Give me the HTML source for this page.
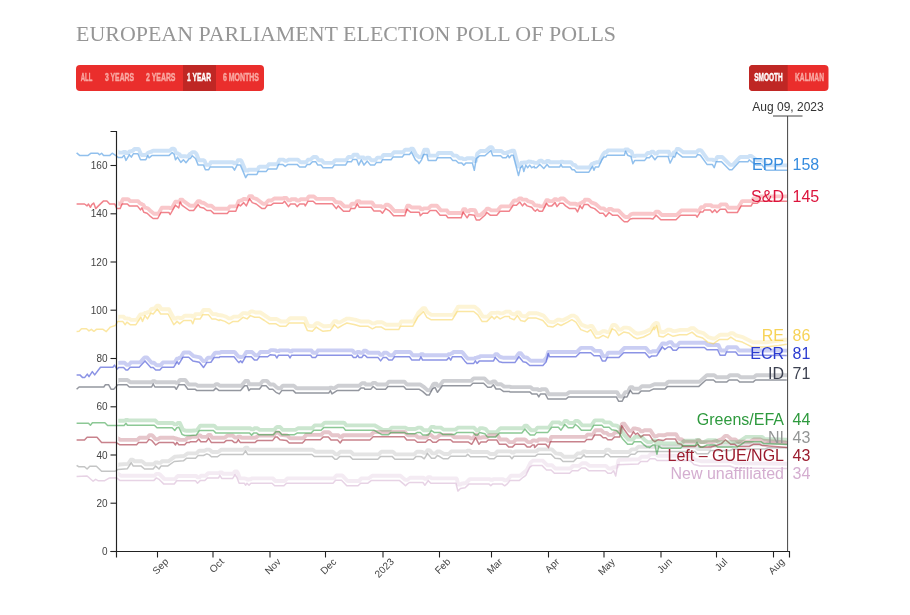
<!DOCTYPE html><html><head><meta charset="utf-8"><title>European Parliament Election Poll of Polls</title><style>html,body{margin:0;padding:0;background:#fff;width:910px;height:615px;overflow:hidden}</style></head><body><svg width="910" height="615" viewBox="0 0 910 615" style="position:absolute;left:0;top:0">
<defs><clipPath id="cp"><rect x="118.3" y="120" width="669.5" height="431"/></clipPath></defs>
<path d="M77.4,471.8L79.4,471.7L85.9,471.3L87.9,471.3L88.4,471.6L92.9,475.6L94.9,475.6L95.4,475.3L95.9,475.3L97.9,475.3L98.9,475.9L99.4,476.0L104.9,476.0L105.4,475.9L109.9,473.4L110.4,473.1L114.9,473.0L116.9,473.0L117.4,473.2L120.9,475.8L121.4,475.8L154.4,475.8L154.9,475.4L156.4,473.9L158.4,473.9L158.9,474.0L159.4,474.2L159.9,474.5L164.4,479.0L164.9,479.1L174.9,479.1L175.4,478.6L177.4,476.3L177.9,476.0L195.9,476.0L196.4,476.1L197.4,477.3L199.4,477.3L199.9,476.8L200.9,475.8L201.4,475.8L205.4,475.8L205.9,475.5L207.9,473.5L208.4,473.1L219.4,473.1L219.9,472.4L221.9,472.4L222.4,473.2L222.9,473.8L232.9,473.8L233.4,473.6L234.4,472.1L234.9,471.5L236.9,471.5L237.4,472.3L237.9,473.1L239.4,477.1L239.9,478.4L244.9,478.4L245.4,478.8L245.9,478.8L246.4,479.0L246.9,479.0L247.4,479.5L247.9,479.5L248.4,479.7L248.9,479.5L249.4,479.2L250.9,479.2L251.4,478.7L251.9,478.4L272.4,478.4L272.9,478.5L275.4,481.0L275.9,481.0L284.4,481.0L284.9,480.9L286.9,478.9L287.4,478.4L333.4,478.4L333.9,478.3L336.4,475.5L336.9,475.5L341.9,475.5L342.4,475.6L347.4,480.8L347.9,481.0L358.4,481.0L358.9,481.0L361.4,478.5L361.9,478.4L368.4,478.4L368.9,478.3L371.9,475.9L372.4,475.8L399.9,475.8L400.4,475.8L403.9,478.7L404.4,479.1L404.9,479.6L405.4,479.9L407.4,479.9L407.9,479.4L408.4,479.0L409.9,478.0L410.4,477.7L423.4,477.7L423.9,478.0L424.4,478.7L424.9,478.7L426.9,478.7L427.9,477.3L428.4,477.2L430.4,477.2L431.4,478.2L431.9,478.4L456.4,478.4L456.9,479.3L457.9,483.3L458.4,484.6L460.4,484.6L460.9,484.1L461.4,483.7L465.9,483.0L466.4,482.5L469.4,479.5L469.9,479.1L489.4,479.1L489.9,479.3L490.4,479.7L492.4,479.7L492.9,479.7L493.4,479.2L493.9,479.1L502.4,479.1L502.9,479.1L504.4,480.2L506.4,480.2L506.9,480.0L507.9,479.2L508.4,478.7L510.4,476.2L510.9,475.8L519.9,475.8L520.4,475.4L523.9,472.5L524.4,472.1L526.4,470.6L526.9,469.8L530.4,462.8L530.9,462.3L532.9,460.8L533.4,460.6L542.4,460.6L542.9,460.8L546.9,464.8L547.4,465.2L551.9,465.2L552.4,465.7L554.9,468.2L555.4,468.5L569.9,468.5L570.4,468.5L572.9,466.0L573.4,465.9L578.9,465.9L579.4,465.5L581.9,463.5L582.4,463.2L585.9,463.2L586.4,463.4L589.4,465.8L589.9,465.9L605.9,465.9L606.4,466.3L608.4,468.3L608.9,468.5L611.9,468.5L612.4,468.0L612.9,467.5L614.9,467.5L615.4,467.0L615.9,466.8L616.9,466.8L617.4,466.2L618.4,460.5L618.9,459.9L638.9,459.3L639.4,458.8L641.4,456.8L641.9,456.7L647.9,456.7L648.4,456.4L650.4,454.4L650.9,454.0L653.4,454.0L655.4,454.0L655.9,454.1L657.4,455.4L657.9,455.7L690.4,455.7L690.9,455.8L694.4,459.3L694.9,459.7L700.4,461.1L700.9,461.2L730.4,461.2L730.9,461.2L735.4,463.0L735.9,463.2L785.9,463.8L787.9,463.8" fill="none" stroke="#d4aed0" stroke-opacity="0.25" stroke-width="3.9" stroke-linejoin="round" clip-path="url(#cp)"/>
<path d="M76.6,476.6L87.1,476.0L93.1,481.2L95.7,479.3L98.4,480.8L104.3,480.8L109.6,477.9L116.2,477.7L120.1,480.6L153.7,480.6L156.4,477.9L159.0,479.3L163.6,483.9L174.2,483.9L176.8,480.8L189.3,480.8L195.5,480.8L197.5,483.2L200.2,480.6L204.8,480.6L207.4,477.9L218.6,477.9L219.9,475.3L221.9,478.6L232.5,478.6L235.1,474.6L237.1,477.9L239.1,483.2L244.3,483.2L245.7,485.2L247.0,483.2L249.0,485.2L250.9,483.2L272.0,483.2L274.7,485.8L283.9,485.8L286.5,483.2L304.3,483.2L333.0,483.2L335.6,480.3L341.5,480.3L346.8,485.8L358.0,485.8L360.7,483.2L367.9,483.2L371.2,480.6L399.6,480.6L403.5,483.9L405.5,485.8L407.5,483.9L409.5,482.5L419.3,482.5L422.9,482.5L424.9,485.2L428.2,480.6L430.8,483.2L455.9,483.2L457.9,491.1L460.5,488.5L465.1,487.8L469.1,483.9L488.8,483.9L490.8,485.6L492.8,483.9L502.0,483.9L504.7,485.8L507.3,483.9L509.9,480.6L519.2,480.6L523.1,477.3L525.8,475.3L529.7,467.4L532.4,465.4L534.3,465.4L541.9,465.4L546.5,470.0L551.1,470.0L554.4,473.3L569.6,473.3L572.2,470.7L578.1,470.7L581.4,468.0L585.4,468.0L588.7,470.7L605.2,470.7L607.8,473.3L611.1,473.3L613.7,470.7L615.7,476.0L617.7,464.7L638.1,464.1L640.8,461.5L647.4,461.5L650.0,458.8L655.0,458.8L657.0,460.5L690.0,460.5L694.0,464.5L700.0,466.0L730.0,466.0L735.0,468.0L787.5,468.6" fill="none" stroke="#d4aed0" stroke-opacity="0.55" stroke-width="1.5" stroke-linejoin="round"/>
<path d="M77.4,461.3L78.4,461.6L79.4,461.9L84.9,461.9L85.4,462.0L86.4,462.9L86.9,463.2L88.9,463.2L90.4,461.7L90.9,461.5L96.9,461.5L97.4,461.7L102.4,466.5L102.9,466.5L115.4,466.5L115.9,466.4L118.9,464.6L119.4,464.5L127.9,463.9L128.4,463.6L130.9,459.8L132.9,459.8L133.4,460.1L133.9,460.9L134.4,461.3L141.9,461.3L142.4,461.6L144.9,463.8L145.4,464.2L153.4,464.2L153.9,464.1L155.4,462.5L155.9,462.5L157.9,462.5L158.4,462.9L160.4,462.9L160.9,462.6L161.4,461.8L161.9,461.3L167.9,461.3L168.4,461.3L174.9,456.7L175.4,456.6L183.9,456.0L184.4,455.8L187.4,453.4L187.9,453.4L195.9,453.4L196.4,453.3L198.9,450.8L199.4,450.7L203.9,450.7L204.4,450.7L206.4,449.7L206.9,449.6L208.9,449.6L209.9,450.0L210.4,450.3L211.9,451.8L212.4,452.0L217.9,452.0L218.4,451.8L221.4,449.7L221.9,449.7L243.4,449.7L243.9,449.6L244.9,448.2L245.4,447.8L247.4,447.8L248.4,449.6L248.9,449.7L312.4,449.7L312.9,449.8L314.9,451.4L315.4,451.8L332.9,451.8L333.4,452.1L335.4,454.1L335.9,454.2L337.9,454.2L339.9,452.2L340.4,451.8L350.9,451.8L351.4,452.3L353.4,454.3L353.9,454.4L378.4,454.4L378.9,454.1L380.9,452.1L381.4,451.8L392.9,451.8L393.4,452.1L395.4,454.1L395.9,454.4L413.9,454.4L414.4,454.2L416.4,452.2L416.9,451.8L419.9,451.8L420.4,451.8L422.4,452.0L423.4,452.8L425.4,452.8L425.9,452.6L427.4,450.2L429.4,450.2L429.9,450.6L431.9,452.9L432.4,453.4L435.4,453.4L435.9,453.0L437.4,451.5L439.4,451.5L439.9,451.6L440.4,451.8L440.9,452.1L443.9,453.9L444.4,454.0L448.4,454.0L448.9,453.9L451.4,451.4L451.9,451.4L466.4,451.4L466.9,451.1L467.4,450.6L469.4,450.6L469.9,450.7L470.9,451.7L471.4,452.0L487.4,452.0L487.9,452.2L489.9,453.7L490.4,454.0L494.9,454.0L495.4,453.5L497.4,451.5L497.9,451.4L510.4,451.4L510.9,451.6L511.4,452.2L511.9,452.5L513.9,452.5L514.4,451.8L514.9,451.4L535.9,451.4L536.4,451.1L538.4,449.6L538.9,449.4L551.9,449.4L552.4,449.9L555.4,452.9L555.9,453.4L560.9,454.0L561.4,454.3L563.4,456.3L563.9,456.7L573.9,456.7L574.4,456.6L577.4,453.6L577.9,453.4L581.4,453.4L581.9,453.0L583.4,451.5L585.4,451.5L585.9,451.6L586.4,452.0L604.4,452.0L604.9,451.7L606.4,449.7L606.9,449.7L608.9,449.7L610.9,451.7L611.4,452.0L628.9,452.0L629.4,451.7L631.4,449.7L631.9,449.4L635.4,449.4L635.9,449.1L637.9,447.1L638.4,446.8L649.9,446.8L650.4,446.8L695.4,446.8L695.9,446.9L697.4,448.6L697.9,449.0L708.4,449.0L708.9,448.9L710.9,446.2L711.4,445.7L730.4,445.7L730.9,445.7L733.4,444.4L733.9,444.2L765.4,444.2L765.9,444.2L768.4,443.1L768.9,442.9L787.9,442.9" fill="none" stroke="#939595" stroke-opacity="0.25" stroke-width="3.9" stroke-linejoin="round" clip-path="url(#cp)"/>
<path d="M76.6,465.4L78.6,466.7L84.5,466.7L87.1,469.0L89.8,466.3L96.4,466.3L101.6,471.3L114.8,471.3L118.1,469.4L127.4,468.7L131.3,462.8L133.3,466.1L141.2,466.1L144.5,469.0L153.1,469.0L155.7,466.1L159.0,469.0L161.0,466.1L167.6,466.1L174.2,461.5L183.4,460.8L186.7,458.2L189.3,458.2L195.5,458.2L198.2,455.5L203.5,455.5L206.8,453.9L209.4,454.9L211.4,456.8L217.3,456.8L220.6,454.5L243.0,454.5L245.7,450.9L247.6,454.5L304.3,454.5L311.9,454.5L314.5,456.6L332.3,456.6L334.9,459.2L336.9,459.2L339.6,456.6L350.1,456.6L352.7,459.2L377.8,459.2L380.4,456.6L392.3,456.6L394.9,459.2L413.4,459.2L416.0,456.6L419.3,456.6L421.6,456.8L424.2,458.8L427.5,453.5L431.5,458.2L434.8,458.2L437.4,455.5L440.1,456.8L443.4,458.8L448.0,458.8L450.6,456.2L465.8,456.2L467.7,454.2L470.4,456.8L486.9,456.8L489.5,458.8L494.1,458.8L496.8,456.2L509.9,456.2L511.9,458.8L513.9,456.2L534.3,456.2L535.3,456.2L537.9,454.2L551.1,454.2L555.1,458.2L560.3,458.8L563.0,461.5L573.5,461.5L576.8,458.2L580.8,458.2L584.1,454.9L585.4,456.8L603.8,456.8L605.8,454.2L607.8,454.2L610.4,456.8L628.2,456.8L630.9,454.2L634.8,454.2L637.5,451.6L649.3,451.6L695.0,451.6L697.0,453.8L708.0,453.8L710.5,450.5L730.0,450.5L733.0,449.0L765.0,449.0L768.0,447.7L787.5,447.7" fill="none" stroke="#939595" stroke-opacity="0.55" stroke-width="1.5" stroke-linejoin="round"/>
<path d="M77.4,435.2L84.9,435.2L85.4,435.1L87.9,432.6L88.4,432.5L97.4,432.5L97.9,432.6L102.4,437.7L102.9,437.8L116.9,437.8L117.4,438.1L119.9,439.7L120.4,439.9L137.4,439.9L138.9,438.3L139.4,437.8L146.9,437.8L147.4,437.7L149.4,435.3L151.4,435.3L151.9,435.3L152.4,435.5L152.9,435.9L155.4,438.9L155.9,439.2L157.9,439.2L159.4,438.1L159.9,437.8L173.9,437.8L174.4,437.9L174.9,438.5L176.4,438.5L176.9,439.0L177.4,439.1L178.9,439.1L179.4,439.7L179.9,439.9L185.4,439.9L185.9,439.5L187.4,437.9L187.9,437.8L189.9,437.8L190.4,437.5L190.9,437.0L191.4,436.9L196.9,436.9L197.4,436.5L198.4,435.5L200.4,435.5L200.9,435.9L201.4,436.6L201.9,436.9L206.9,436.9L207.4,436.3L208.4,435.0L210.4,435.0L210.9,435.7L211.9,437.3L212.4,437.8L224.4,437.8L224.9,437.6L226.9,435.9L227.4,435.6L232.4,435.6L232.9,435.8L234.9,437.5L235.4,437.6L237.4,437.6L237.9,436.8L238.4,436.6L240.4,436.6L240.9,437.4L241.4,437.8L255.4,437.8L255.9,437.6L257.9,435.9L258.4,435.6L273.4,435.6L273.9,435.1L275.9,432.6L276.4,432.5L278.4,432.5L280.4,434.5L280.9,434.9L286.9,435.5L287.4,435.6L289.9,438.1L290.4,438.2L302.9,438.2L303.4,438.0L304.9,436.5L305.4,435.9L305.9,435.1L306.4,434.9L320.9,434.9L321.4,434.7L323.4,432.7L323.9,432.3L328.9,432.3L329.4,432.5L331.4,434.7L331.9,435.2L337.9,435.2L338.4,435.2L339.4,436.3L339.9,436.8L341.9,436.8L342.9,435.3L343.4,435.2L370.4,435.2L370.9,435.0L373.9,432.1L374.4,432.0L404.9,432.0L405.4,432.5L407.4,434.9L407.9,435.2L415.4,435.2L415.9,435.5L417.9,437.3L418.4,437.5L425.9,437.5L426.4,437.5L428.9,435.0L430.9,435.0L431.4,435.3L433.4,437.3L433.9,437.5L436.9,437.5L437.4,437.1L439.9,435.1L440.4,434.9L451.4,434.9L451.9,435.3L453.9,437.1L454.4,437.3L468.9,437.3L469.4,437.4L470.9,438.4L472.9,438.4L473.4,438.0L474.9,435.5L475.4,434.8L477.4,434.8L478.9,437.8L480.9,437.8L481.4,437.7L481.9,437.3L486.9,437.3L487.4,436.9L488.9,435.3L489.4,435.2L497.4,435.2L497.9,435.7L499.9,439.0L500.4,439.5L506.4,439.5L506.9,439.6L509.4,442.1L509.9,442.1L512.9,442.1L513.4,442.1L515.9,439.6L516.4,439.5L524.9,439.5L525.4,439.7L527.4,441.7L527.9,442.1L530.9,442.1L531.4,441.9L532.9,440.4L534.9,440.4L535.4,440.8L537.4,440.8L538.4,439.8L538.9,439.5L546.4,439.5L546.9,439.8L547.4,440.5L547.9,440.9L549.9,440.9L550.9,437.9L551.4,436.9L585.4,436.9L585.9,436.5L587.4,434.8L587.9,434.6L592.4,434.6L592.9,434.4L595.4,430.3L595.9,430.3L600.9,430.3L601.4,430.3L603.9,432.8L604.4,432.9L606.4,432.9L606.9,433.2L608.4,434.7L608.9,434.9L612.4,434.9L612.9,434.6L614.9,432.6L615.4,432.3L620.4,432.3L620.9,429.9L621.9,424.2L622.4,423.8L624.4,423.8L628.9,430.1L629.4,430.6L629.9,430.9L631.9,430.9L633.4,428.5L635.4,428.5L635.9,428.6L636.4,428.6L636.9,428.9L637.4,429.0L637.9,429.1L638.4,429.2L638.9,429.2L639.4,429.6L640.4,430.8L640.9,431.3L642.9,431.3L643.9,430.5L644.4,430.3L650.4,430.3L650.9,431.0L653.4,435.0L653.9,435.7L654.4,436.0L654.9,436.1L656.9,436.1L658.4,435.2L658.9,435.1L660.9,435.1L662.4,435.3L664.4,435.3L664.9,435.2L666.9,434.2L667.4,434.2L675.9,434.2L676.4,434.7L678.4,438.2L678.9,438.9L681.9,439.5L682.4,439.9L683.9,441.6L684.4,441.7L695.9,441.7L696.4,441.3L697.4,440.5L699.4,440.5L699.9,440.9L700.9,441.9L701.4,442.1L711.4,442.1L711.9,442.1L716.9,440.9L717.4,440.7L721.9,439.0L722.4,438.7L724.9,436.2L725.4,435.9L727.4,435.9L731.4,439.4L731.9,439.5L735.4,439.5L735.9,439.9L737.9,441.6L738.4,441.7L749.9,441.7L750.4,441.5L753.9,439.5L754.4,439.5L760.4,439.5L760.9,439.7L762.9,440.7L763.4,440.8L785.9,442.5L787.9,442.6" fill="none" stroke="#9b1c2e" stroke-opacity="0.25" stroke-width="3.9" stroke-linejoin="round" clip-path="url(#cp)"/>
<path d="M76.6,440.0L84.5,440.0L87.1,437.3L97.0,437.3L101.6,442.6L116.2,442.6L119.5,444.7L136.6,444.7L138.6,442.6L146.5,442.6L149.1,439.4L151.8,440.4L155.7,445.0L159.0,442.6L173.5,442.6L175.5,445.0L176.8,442.3L178.8,444.7L184.7,444.7L186.7,442.6L189.3,442.6L190.3,441.7L196.2,441.7L198.8,439.0L200.8,441.7L206.1,441.7L208.7,438.4L211.4,442.6L223.9,442.6L226.5,440.4L231.8,440.4L234.5,442.6L236.4,442.6L238.4,439.7L240.4,442.6L254.9,442.6L257.5,440.4L272.7,440.4L275.3,437.1L277.3,437.1L279.9,439.7L286.5,440.4L289.2,443.0L302.4,443.0L304.3,441.0L305.3,439.7L320.4,439.7L323.1,437.1L328.4,437.1L331.0,440.0L337.6,440.0L340.2,443.0L342.2,440.0L369.9,440.0L373.2,436.8L404.2,436.8L406.8,440.0L414.7,440.0L417.4,442.3L419.3,442.3L420.3,442.3L425.5,442.3L428.2,439.7L430.2,439.7L432.8,442.3L436.1,442.3L439.4,439.7L450.6,439.7L453.2,442.1L468.4,442.1L471.7,444.3L475.7,437.7L479.0,444.3L480.9,442.1L486.2,442.1L488.2,440.0L496.8,440.0L499.4,444.3L506.0,444.3L508.6,446.9L512.6,446.9L515.2,444.3L524.5,444.3L527.1,446.9L530.4,446.9L532.4,445.0L534.3,445.0L534.6,447.6L537.9,444.3L545.8,444.3L548.5,447.6L550.4,441.7L584.7,441.7L586.7,439.4L592.0,439.4L594.6,435.1L600.5,435.1L603.2,437.7L605.8,437.7L607.8,439.7L611.8,439.7L614.4,437.1L619.7,437.1L621.6,425.8L624.9,430.5L628.2,435.1L630.2,437.1L633.5,431.8L635.5,434.4L637.5,433.1L640.8,437.1L643.4,435.1L648.7,435.1L649.6,435.1L652.9,440.4L654.9,441.7L658.2,439.7L663.5,440.4L666.1,439.0L675.3,439.0L678.0,443.6L681.3,444.3L683.2,446.5L695.1,446.5L697.7,444.3L700.4,446.9L710.9,446.9L716.2,445.6L721.5,443.6L725.4,439.7L730.7,444.3L734.7,444.3L737.3,446.5L749.2,446.5L753.1,444.3L759.7,444.3L762.4,445.6L787.5,447.5" fill="none" stroke="#9b1c2e" stroke-opacity="0.55" stroke-width="1.5" stroke-linejoin="round"/>
<path d="M77.4,418.4L88.9,418.4L89.4,418.5L89.9,419.0L91.9,419.0L92.4,419.0L92.9,418.4L93.4,418.0L105.4,418.0L105.9,418.2L107.9,420.2L108.4,420.7L124.4,420.7L124.9,420.6L125.4,420.1L125.9,420.0L127.9,420.0L128.4,420.4L154.9,420.4L155.4,420.6L157.4,422.6L157.9,423.0L172.9,423.0L173.4,423.4L174.4,424.4L176.4,424.4L176.9,424.0L177.4,423.3L177.9,423.0L179.9,423.0L182.4,428.5L182.9,429.6L185.4,430.6L185.9,430.7L190.9,430.7L191.4,430.7L196.9,430.3L197.4,429.7L199.9,426.2L200.4,425.7L213.9,425.7L214.4,425.9L216.4,427.9L216.9,428.3L250.4,428.3L250.9,428.8L251.4,429.3L253.4,429.3L253.9,428.8L254.4,428.3L257.4,428.3L257.9,428.5L259.4,429.7L259.9,429.9L273.9,429.9L274.4,429.6L276.4,427.4L276.9,427.0L279.9,427.0L280.4,427.3L282.4,429.5L282.9,429.9L294.9,429.9L295.4,429.8L297.4,428.6L297.9,428.3L311.9,428.3L312.4,427.9L314.4,425.7L314.9,425.4L321.9,425.4L322.4,424.9L324.4,422.9L324.9,422.8L343.9,422.8L344.4,422.9L345.9,424.9L346.4,425.4L374.4,425.4L374.9,425.5L382.4,429.8L382.9,429.9L388.9,429.9L389.4,429.7L391.4,428.0L391.9,427.6L404.9,427.6L405.4,427.8L407.4,428.8L407.9,429.0L415.4,429.0L415.9,428.8L417.9,427.8L418.4,427.6L420.9,427.6L421.4,428.0L423.4,430.0L423.9,430.3L428.9,430.3L429.4,429.7L431.4,426.9L431.9,426.9L433.9,426.9L434.9,427.6L435.4,427.6L440.4,427.6L440.9,427.7L443.4,429.5L443.9,429.6L454.9,429.6L455.4,429.6L457.9,427.7L458.4,427.6L473.4,427.6L473.9,427.7L476.4,430.2L478.4,430.2L478.9,429.7L479.9,428.3L480.4,428.1L482.4,428.1L485.4,428.9L485.9,429.2L487.9,431.7L488.4,432.3L495.9,432.3L496.4,432.1L499.9,428.6L500.4,428.3L522.4,428.3L522.9,428.0L524.4,426.2L524.9,425.7L526.9,425.7L527.4,426.3L527.9,427.0L530.9,430.0L531.4,430.3L534.9,430.3L535.4,430.1L537.4,427.6L548.4,427.6L548.9,427.3L552.4,422.6L552.9,422.4L558.9,422.4L559.4,422.6L560.4,423.8L560.9,423.8L562.9,423.8L564.9,420.9L566.9,420.9L567.4,421.4L568.9,422.9L569.4,423.0L573.4,423.0L573.9,422.7L575.4,420.9L577.4,420.9L577.9,420.9L578.9,421.7L579.4,422.2L581.9,425.0L582.4,425.4L591.4,425.4L591.9,424.7L594.4,420.9L594.9,420.4L602.4,420.4L602.9,420.6L604.4,422.1L604.9,422.4L609.9,422.4L610.4,422.8L612.4,424.8L612.9,425.1L616.9,425.6L617.4,425.9L620.4,428.9L620.9,429.7L622.9,433.2L623.4,433.9L627.9,439.0L628.4,439.5L632.9,439.5L633.4,439.0L634.9,437.0L635.4,436.9L641.4,436.9L641.9,437.2L643.9,439.2L644.4,439.7L647.4,442.1L647.9,442.1L650.9,442.1L651.4,441.9L653.4,440.4L655.4,440.4L655.9,441.1L656.4,443.4L656.9,444.5L658.9,444.5L659.4,442.5L661.4,442.5L662.9,443.4L663.4,443.5L681.4,443.5L681.9,443.0L683.9,441.0L684.4,440.8L695.9,440.8L696.4,440.0L696.9,439.9L698.9,439.9L699.4,441.0L699.9,442.1L703.4,442.1L703.9,442.1L707.4,440.4L707.9,440.2L715.4,440.2L715.9,440.3L717.9,441.8L718.4,442.1L737.9,442.1L738.4,442.0L745.9,437.0L746.4,436.9L761.4,436.9L761.9,436.9L764.4,438.8L764.9,438.9L785.9,439.6L787.9,439.6" fill="none" stroke="#2e9a3e" stroke-opacity="0.25" stroke-width="3.9" stroke-linejoin="round" clip-path="url(#cp)"/>
<path d="M76.6,423.2L88.5,423.2L90.4,425.2L92.4,422.8L104.9,422.8L107.6,425.5L124.1,425.5L126.0,423.2L127.4,425.2L154.4,425.2L157.0,427.8L172.2,427.8L174.8,430.5L176.8,427.8L178.8,427.2L182.1,434.4L184.7,435.5L189.3,435.5L190.3,435.5L196.2,435.1L199.5,430.5L213.4,430.5L216.0,433.1L249.6,433.1L251.6,435.1L253.6,433.1L256.9,433.1L258.8,434.7L273.4,434.7L276.0,431.8L279.3,431.8L281.9,434.7L294.5,434.7L297.1,433.1L304.3,433.1L305.3,433.1L311.2,433.1L313.8,430.2L321.1,430.2L323.7,427.6L343.5,427.6L345.5,430.2L373.8,430.2L377.8,432.4L381.8,434.7L388.4,434.7L391.0,432.4L404.2,432.4L406.8,433.8L414.7,433.8L417.4,432.4L419.3,432.4L420.3,432.4L422.9,435.1L428.2,435.1L431.5,430.5L434.1,432.4L440.1,432.4L442.7,434.4L454.6,434.4L457.2,432.4L473.0,432.4L475.7,435.1L477.6,435.1L479.6,432.4L484.9,433.8L487.5,437.1L495.4,437.1L499.4,433.1L521.8,433.1L525.1,429.1L527.1,431.8L530.4,435.1L534.3,435.1L534.4,435.1L536.6,432.4L547.8,432.4L551.8,427.2L558.4,427.2L561.0,430.2L564.9,424.5L568.2,427.8L572.9,427.8L575.5,424.5L578.1,426.5L581.4,430.2L590.7,430.2L594.0,425.2L601.9,425.2L603.8,427.2L609.1,427.2L611.8,429.8L616.4,430.5L619.7,433.8L622.3,438.4L627.6,444.3L632.2,444.3L634.2,441.7L640.8,441.7L643.4,444.3L646.7,446.9L649.3,446.9L649.4,447.6L652.9,445.0L654.9,445.0L656.9,454.2L658.8,446.3L662.1,448.3L680.6,448.3L683.2,445.6L695.1,445.6L697.1,442.3L699.1,446.9L703.0,446.9L707.0,445.0L714.9,445.0L717.5,446.9L737.3,446.9L741.3,444.3L745.2,441.7L761.0,441.7L763.7,443.6L787.5,444.5" fill="none" stroke="#2e9a3e" stroke-opacity="0.55" stroke-width="1.5" stroke-linejoin="round"/>
<path d="M77.4,383.6L79.4,382.6L79.9,382.2L104.4,382.2L104.9,381.8L105.9,380.5L106.4,380.0L109.4,380.0L109.9,380.7L111.9,384.3L112.4,384.5L114.4,384.5L114.9,384.0L118.4,380.3L118.9,380.0L127.4,380.0L127.9,380.2L129.9,382.0L130.4,382.2L152.4,382.2L152.9,381.3L154.9,381.3L155.4,381.6L155.9,382.2L175.4,382.2L175.9,382.8L177.9,382.8L178.4,382.2L179.4,380.4L179.9,380.0L184.9,380.0L185.4,380.1L188.4,384.1L188.9,384.5L195.9,384.5L196.4,384.7L197.4,385.5L197.9,385.8L213.9,385.8L214.4,385.6L215.4,384.6L215.9,384.2L217.9,384.2L219.9,385.7L220.4,385.8L240.9,385.8L241.4,385.8L245.4,381.0L245.9,380.9L247.9,380.9L248.4,382.2L248.9,383.7L249.4,384.2L259.9,384.2L260.4,384.0L262.4,381.4L262.9,380.9L266.9,380.9L267.4,381.4L269.9,384.2L270.4,384.5L273.4,384.5L273.9,384.8L276.4,387.1L276.9,387.5L278.4,388.3L280.4,388.3L280.9,388.0L282.4,386.0L282.9,385.8L293.9,385.8L294.4,386.1L296.4,388.1L296.9,388.3L329.4,388.3L329.9,387.7L331.9,387.7L332.4,388.1L334.4,388.1L337.4,386.1L337.9,385.8L358.9,385.8L359.4,385.6L361.4,383.6L361.9,383.3L364.9,383.3L365.4,384.0L365.9,384.5L371.4,384.5L371.9,384.1L372.9,382.9L373.4,382.9L375.4,382.9L376.9,384.2L377.4,384.5L385.9,384.5L386.4,384.4L388.4,382.2L388.9,381.7L404.4,381.7L404.9,382.2L406.9,384.4L407.4,384.5L419.9,384.5L420.4,384.6L423.4,386.6L423.9,387.0L427.4,390.1L427.9,390.3L429.9,390.3L430.4,389.6L432.9,385.0L433.4,384.1L433.9,383.8L434.4,383.7L436.4,383.7L437.4,385.7L439.4,385.7L439.9,385.3L442.9,381.3L443.4,380.9L470.9,380.9L471.4,380.7L473.4,378.7L473.9,378.4L484.4,378.4L484.9,378.9L488.4,382.4L488.9,382.5L491.4,382.5L491.9,382.5L492.9,381.5L494.9,381.5L495.4,381.8L496.4,383.5L496.9,384.2L500.9,384.2L501.4,384.5L503.9,386.4L504.4,386.6L509.9,386.6L510.4,386.9L510.9,387.1L530.4,387.1L530.9,387.4L532.9,389.2L533.4,389.3L537.9,389.3L538.4,390.0L540.4,390.0L540.9,389.9L541.4,389.3L545.9,389.3L546.4,389.7L548.4,393.7L548.9,394.2L566.4,394.2L566.9,394.1L568.9,392.4L569.4,392.1L616.9,392.1L617.4,392.7L619.4,396.3L619.9,396.5L622.4,396.5L622.9,396.4L624.9,392.8L625.4,392.1L627.4,392.1L627.9,391.8L629.9,387.8L630.4,387.2L632.4,387.2L633.4,388.6L633.9,388.8L638.9,388.8L639.4,388.7L641.4,386.7L641.9,386.3L649.9,386.3L650.4,386.1L653.9,384.4L654.4,384.3L665.4,384.3L665.9,384.0L667.9,382.0L668.4,381.8L699.4,381.8L699.9,381.4L706.4,375.6L706.9,375.2L713.9,375.2L714.4,375.3L716.4,377.0L716.9,377.3L727.4,377.3L727.9,377.0L729.9,375.2L730.4,375.2L737.9,375.2L738.4,375.4L740.4,377.1L740.9,377.3L753.4,377.3L753.9,377.3L755.9,375.5L756.4,375.2L787.4,375.2" fill="none" stroke="#3c4150" stroke-opacity="0.25" stroke-width="3.9" stroke-linejoin="round" clip-path="url(#cp)"/>
<path d="M76.6,389.3L79.1,387.0L103.8,387.0L105.4,384.8L108.7,384.8L111.2,389.3L113.7,389.3L117.8,384.8L126.9,384.8L129.3,387.0L151.6,387.0L153.2,384.0L154.9,387.0L174.7,387.0L176.3,389.3L178.8,384.8L184.6,384.8L187.9,389.3L195.3,389.3L196.9,390.6L213.4,390.6L215.9,388.1L219.2,390.6L219.9,390.6L240.5,390.6L244.7,385.7L247.1,385.7L248.8,390.6L250.4,389.0L259.5,389.0L262.0,385.7L266.1,385.7L269.4,389.3L272.7,389.3L276.0,392.3L279.3,393.9L281.8,390.6L293.3,390.6L295.8,393.1L328.7,393.1L330.4,390.6L332.0,393.9L337.0,390.6L358.4,390.6L360.9,388.1L364.2,388.1L364.9,389.3L370.7,389.3L373.2,386.5L376.5,389.3L385.5,389.3L388.0,386.5L403.7,386.5L406.2,389.3L419.3,389.3L422.6,391.4L426.8,395.1L429.2,395.1L432.5,389.0L435.0,387.3L437.5,392.3L442.4,385.7L470.4,385.7L472.9,383.2L483.6,383.2L487.7,387.3L491.0,387.3L493.5,384.8L496.0,389.0L500.1,389.0L503.4,391.4L509.2,391.4L509.9,391.9L529.7,391.9L532.2,394.1L537.1,394.1L538.8,396.9L540.4,394.1L545.4,394.1L547.9,399.0L566.0,399.0L568.5,396.9L616.3,396.9L618.7,401.3L622.0,401.3L624.5,396.9L627.0,396.9L630.3,390.3L632.7,393.6L638.5,393.6L641.0,391.1L649.2,391.1L651.6,389.9L653.3,389.1L664.8,389.1L667.3,386.6L698.6,386.6L706.0,380.0L713.5,380.0L715.9,382.1L726.6,382.1L729.1,380.0L737.4,380.0L739.8,382.1L753.0,382.1L755.5,380.0L786.8,380.0" fill="none" stroke="#3c4150" stroke-opacity="0.55" stroke-width="1.5" stroke-linejoin="round"/>
<path d="M77.4,370.1L80.4,370.1L80.9,370.3L82.9,372.3L83.4,372.6L85.4,372.6L85.9,372.3L86.9,370.9L87.9,370.9L88.4,370.8L88.9,370.5L89.4,370.3L89.9,370.1L90.9,370.1L91.9,368.6L93.9,368.6L94.4,368.6L96.4,368.6L96.9,368.3L100.9,362.9L101.4,362.4L113.4,362.4L113.9,362.1L114.4,362.1L116.4,362.1L116.9,362.9L118.9,362.9L119.4,362.8L119.9,362.7L123.9,362.7L124.4,362.7L126.4,364.7L128.4,364.7L128.9,364.7L130.9,362.5L131.4,362.4L139.9,362.4L140.4,362.0L144.4,357.7L144.9,357.4L146.9,357.4L151.4,362.5L151.9,362.7L153.9,362.7L154.4,363.1L156.4,365.1L156.9,365.2L160.4,365.2L160.9,364.9L162.9,362.6L163.4,362.4L174.4,362.4L174.9,362.0L176.9,358.7L177.9,358.7L178.4,358.4L178.9,358.1L179.4,357.9L179.9,357.6L180.4,357.6L180.9,357.2L183.4,353.0L183.9,352.5L189.4,352.5L189.9,352.9L193.4,356.0L193.9,356.2L199.9,357.4L200.4,357.7L202.9,360.9L203.4,361.1L205.4,361.1L207.4,358.1L207.9,357.8L211.4,357.5L211.9,357.2L214.9,353.0L215.4,352.8L219.9,352.8L220.4,352.4L220.9,352.0L234.4,352.0L234.9,352.2L237.9,355.9L238.4,356.5L238.9,356.6L239.4,356.6L239.9,356.7L240.4,357.0L240.9,357.1L241.9,357.1L242.4,356.7L242.9,356.6L243.4,356.2L243.9,356.2L245.9,352.7L246.4,352.0L251.9,352.0L252.4,352.3L254.9,354.8L255.4,355.3L257.4,355.3L257.9,355.2L259.9,352.6L260.4,352.0L268.4,352.0L268.9,351.7L270.4,350.4L270.9,350.1L272.9,350.1L275.9,350.4L276.4,351.1L278.4,351.1L278.9,351.0L279.4,350.4L288.9,350.4L289.4,350.8L289.9,351.3L291.9,351.3L292.4,350.5L292.9,350.4L311.4,350.4L311.9,351.1L312.9,352.6L313.4,352.8L315.9,352.8L316.4,352.8L317.9,350.5L318.4,350.4L352.4,350.4L352.9,350.8L353.9,352.3L354.4,352.8L356.4,352.8L356.9,352.6L357.4,351.9L359.4,351.9L359.9,352.6L360.4,352.8L362.4,352.8L362.9,352.3L363.9,350.8L365.9,350.8L366.4,351.0L367.9,352.5L368.4,352.8L378.9,352.8L379.4,353.5L380.4,354.8L382.4,354.8L382.9,354.1L383.4,353.5L383.9,352.8L386.9,352.8L387.4,353.1L389.4,355.1L389.9,355.3L392.9,355.3L393.4,354.7L395.4,352.0L395.9,352.0L409.9,352.0L410.4,352.2L412.4,354.9L412.9,355.3L419.9,355.3L420.4,354.8L420.9,354.2L422.9,354.2L423.4,355.2L423.9,355.3L446.9,355.3L447.4,355.3L448.4,354.3L449.9,354.3L450.4,353.8L450.9,353.7L451.4,353.4L452.4,353.4L452.9,352.4L453.4,352.0L461.9,352.0L462.4,352.3L465.4,356.0L465.9,356.6L467.9,358.6L468.4,358.6L474.4,358.6L474.9,358.1L475.4,357.9L476.4,357.9L476.9,357.5L477.4,357.3L477.9,357.2L478.9,357.2L479.4,357.0L479.9,356.5L480.4,356.1L493.9,356.1L494.4,356.0L494.9,355.0L495.4,354.3L497.4,354.3L499.9,356.8L500.4,357.0L502.9,357.7L503.4,357.8L515.4,357.8L515.9,357.5L518.4,354.0L518.9,353.3L520.9,353.3L523.9,356.9L524.4,357.1L526.9,357.7L527.4,357.9L530.4,360.6L530.9,360.7L543.4,360.7L543.9,360.5L546.9,357.1L547.4,355.4L547.9,353.3L548.4,352.0L576.4,352.0L576.9,351.8L580.4,348.3L580.9,347.9L591.4,347.9L591.9,348.2L594.4,350.5L594.9,350.9L600.4,350.9L600.9,351.5L602.9,355.8L603.4,356.1L605.9,356.1L606.4,356.0L607.9,353.0L608.4,352.8L619.4,352.8L619.9,352.5L624.4,348.0L624.9,347.9L645.9,347.9L646.4,348.5L648.9,351.5L649.4,351.9L651.4,351.9L652.4,351.3L652.9,351.2L654.9,351.2L655.4,351.2L657.4,351.0L661.9,344.2L662.4,343.5L664.4,343.5L664.9,343.8L666.9,343.8L668.9,342.3L669.4,342.2L671.4,342.2L671.9,342.9L673.4,344.9L673.9,345.5L676.9,345.5L677.4,345.3L679.4,343.0L679.9,342.7L704.9,342.7L705.4,342.9L707.4,344.8L707.9,345.0L717.9,345.0L718.4,345.1L720.4,349.5L720.9,350.5L725.4,350.5L725.9,350.3L727.4,347.3L727.9,347.2L736.4,347.2L736.9,347.7L738.9,350.4L739.4,350.5L749.4,350.5L749.9,350.5L785.4,350.6L787.4,350.6" fill="none" stroke="#2b3bd0" stroke-opacity="0.25" stroke-width="3.9" stroke-linejoin="round" clip-path="url(#cp)"/>
<path d="M76.6,374.9L79.9,374.9L82.4,377.4L84.8,377.4L87.3,374.1L89.0,376.6L92.3,371.6L94.7,374.9L100.5,367.2L112.9,367.2L114.5,365.1L117.0,369.2L118.6,367.5L123.6,367.5L126.0,370.0L127.7,370.0L130.2,367.2L139.2,367.2L145.0,360.9L150.8,367.5L153.2,367.5L155.7,370.0L159.8,370.0L162.3,367.2L173.8,367.2L177.1,361.8L178.8,364.2L182.9,357.3L188.7,357.3L192.8,360.9L199.4,362.3L203.5,367.5L206.8,362.6L210.9,362.3L214.2,357.6L219.2,357.6L219.9,356.8L234.0,356.8L237.3,360.9L238.9,362.6L240.5,360.9L242.2,362.6L245.5,356.8L251.3,356.8L254.6,360.1L257.0,360.1L259.5,356.8L267.7,356.8L270.2,354.7L275.2,355.2L276.8,358.0L278.5,355.2L288.4,355.2L290.0,358.0L291.6,355.2L310.6,355.2L312.3,357.6L315.5,357.6L317.2,355.2L351.8,355.2L353.5,357.6L355.9,357.6L357.6,355.2L359.2,357.6L361.7,357.6L363.4,355.2L364.9,355.2L367.4,357.6L378.1,357.6L380.6,360.9L383.1,357.6L386.4,357.6L388.8,360.1L392.1,360.1L394.6,356.8L409.5,356.8L411.9,360.1L419.3,360.1L421.0,356.8L422.6,360.1L446.5,360.1L449.0,357.6L450.7,360.1L452.3,356.8L461.4,356.8L464.7,360.9L467.1,363.4L473.7,363.4L475.4,360.9L477.0,363.4L479.5,360.9L493.5,360.9L495.2,357.6L499.3,361.8L502.6,362.6L509.2,362.6L509.9,362.6L514.9,362.6L519.0,356.8L523.1,361.8L526.4,362.6L529.7,365.5L542.9,365.5L546.2,361.8L548.2,353.5L549.5,356.8L575.9,356.8L580.0,352.7L590.7,352.7L594.0,355.7L599.8,355.7L602.3,360.9L605.5,360.9L607.2,357.6L618.7,357.6L623.7,352.7L645.1,352.7L649.2,357.6L651.7,356.0L654.2,356.0L656.6,355.8L662.4,347.0L664.8,349.5L668.1,347.0L670.6,347.0L673.1,350.3L676.4,350.3L678.8,347.5L704.4,347.5L706.9,349.8L717.6,349.8L720.1,355.3L725.0,355.3L726.6,352.0L735.7,352.0L738.2,355.3L748.9,355.3L786.8,355.4" fill="none" stroke="#2b3bd0" stroke-opacity="0.55" stroke-width="1.5" stroke-linejoin="round"/>
<path d="M77.4,326.7L79.4,326.5L79.9,326.4L81.9,324.4L82.4,324.0L86.9,324.0L87.4,324.1L88.4,325.0L88.9,325.4L92.9,325.4L93.4,325.4L93.9,325.5L95.9,325.5L96.9,324.7L97.4,324.5L103.4,324.5L103.9,324.6L105.4,325.6L105.9,325.9L107.9,325.9L110.9,322.7L111.4,322.3L115.9,320.8L116.4,320.3L118.4,316.9L118.9,316.6L123.4,316.6L123.9,317.0L124.9,318.4L126.9,318.4L127.4,318.6L128.9,318.6L129.4,318.7L130.9,319.8L131.4,319.9L136.4,319.9L136.9,319.6L140.4,314.4L141.9,314.4L142.4,314.2L142.9,314.1L144.4,314.1L144.9,312.9L146.9,312.9L147.4,312.3L148.9,312.3L149.4,312.1L150.9,309.5L151.4,308.9L151.9,308.9L152.4,308.8L152.9,308.7L153.4,308.6L153.9,308.6L154.4,308.6L154.9,308.1L156.9,305.7L158.9,305.7L159.4,306.1L161.4,309.1L161.9,309.2L168.4,309.2L168.9,309.2L173.9,318.5L175.9,318.5L176.4,318.1L176.9,317.6L178.9,317.6L179.4,318.0L181.4,318.0L181.9,317.9L184.4,315.9L184.9,315.7L191.9,315.7L192.4,316.6L194.4,316.6L194.9,315.2L195.4,314.1L200.9,314.1L201.4,313.5L203.4,310.1L203.9,310.0L208.9,310.0L209.4,310.1L212.4,313.9L212.9,314.1L215.4,314.1L215.9,314.1L218.4,315.1L218.9,315.1L219.4,315.1L219.9,315.3L220.4,315.3L220.9,315.3L221.4,315.5L222.4,315.5L225.4,316.5L225.9,316.7L228.4,318.2L228.9,318.4L230.9,318.4L233.9,316.6L234.4,316.6L238.4,316.6L238.9,316.6L242.9,313.2L243.4,313.1L245.4,313.1L246.4,313.5L248.4,313.5L248.9,313.2L250.4,311.7L250.9,311.5L252.9,311.5L254.9,312.3L255.4,312.5L259.9,312.5L260.4,312.5L269.9,318.8L270.4,319.0L276.4,319.0L276.9,319.1L280.9,321.5L281.4,321.5L286.4,321.5L286.9,321.3L289.9,318.3L290.4,318.2L304.4,318.2L304.9,318.4L307.9,325.2L308.4,325.7L310.9,326.1L311.4,326.1L313.4,326.1L315.9,323.6L316.4,323.2L318.4,323.2L319.4,323.8L319.9,324.1L323.4,326.2L325.4,326.2L325.9,326.2L330.9,325.7L331.4,325.3L334.4,321.1L336.4,321.1L336.9,321.5L337.4,322.0L337.9,322.4L339.9,322.4L343.9,320.1L344.4,319.9L346.9,318.6L347.4,318.6L349.4,318.6L355.9,319.9L356.4,320.0L360.4,321.4L360.9,321.5L368.9,321.5L369.4,321.7L371.9,323.2L372.4,323.4L374.4,323.4L376.4,322.4L376.9,322.3L381.9,322.3L382.4,322.4L385.9,324.5L386.4,324.8L399.4,324.8L399.9,324.1L400.9,322.1L401.4,321.5L413.4,321.5L413.9,320.9L418.4,312.6L418.9,312.1L422.9,308.1L424.9,308.1L425.4,308.7L427.4,312.2L427.9,312.7L431.4,314.8L431.9,314.9L452.9,314.9L453.4,314.4L457.9,306.9L458.4,306.7L474.4,306.7L474.9,307.0L478.4,309.8L478.9,310.4L482.4,316.0L482.9,316.6L487.4,316.6L487.9,316.4L491.4,312.9L491.9,312.9L495.9,312.9L496.4,312.8L496.9,312.6L498.9,312.6L499.9,313.3L500.4,313.4L502.4,313.4L505.4,311.9L505.9,311.6L509.9,311.6L510.4,312.5L510.9,313.3L512.9,314.1L513.4,314.3L515.4,314.3L516.9,312.4L518.9,312.4L519.4,312.7L521.4,315.7L521.9,315.8L523.9,316.2L525.9,316.2L526.4,315.8L528.4,313.8L528.9,313.3L536.9,313.3L537.4,313.4L543.4,315.6L543.9,316.0L548.4,321.2L548.9,321.6L551.9,322.1L553.9,322.1L554.4,321.8L557.4,319.8L557.9,319.7L559.9,319.7L560.4,320.0L560.9,320.2L562.9,320.2L568.4,317.4L568.9,317.1L571.4,315.6L573.4,315.6L573.9,315.7L576.4,317.2L576.9,317.7L581.4,324.5L581.9,324.9L586.4,326.6L586.9,326.8L588.9,326.8L589.9,326.0L591.9,326.0L592.4,326.3L596.4,332.9L596.9,333.1L599.4,333.1L599.9,333.0L602.9,331.2L604.9,331.2L605.4,331.3L606.9,332.1L608.9,332.1L609.4,331.8L612.4,325.2L612.9,325.0L614.9,325.0L615.9,325.5L616.4,325.9L618.9,329.6L620.9,329.6L621.4,329.3L623.9,327.7L624.4,327.6L626.4,327.6L629.4,328.1L629.9,328.5L633.9,331.8L634.4,332.2L636.9,333.5L638.9,333.5L639.4,333.4L643.9,332.3L644.4,332.2L650.4,329.2L650.9,328.9L653.4,324.9L653.9,324.4L654.4,324.1L654.9,323.5L655.4,323.3L655.9,323.0L656.9,323.0L657.4,323.5L657.9,323.5L658.4,325.1L659.4,329.5L659.9,331.5L662.4,332.0L664.4,332.0L664.9,331.7L667.9,329.7L669.9,329.7L670.4,329.8L672.9,331.0L673.4,331.1L675.4,331.1L680.4,329.9L680.9,329.9L687.4,329.9L687.9,329.9L691.4,328.1L693.4,328.1L693.9,328.3L697.4,331.2L697.9,331.6L703.4,333.1L703.9,333.5L708.4,337.2L708.9,337.4L712.4,338.4L712.9,338.5L714.9,338.5L719.9,334.9L720.4,334.8L727.9,334.8L728.4,334.7L730.4,333.2L732.4,333.2L732.9,333.2L736.4,335.6L736.9,335.7L742.9,337.2L743.4,337.4L752.9,342.2L753.4,342.2L765.9,342.2L766.4,342.2L778.9,340.6L779.4,340.6L785.4,339.7L787.4,339.6" fill="none" stroke="#f7d358" stroke-opacity="0.25" stroke-width="3.9" stroke-linejoin="round" clip-path="url(#cp)"/>
<path d="M76.6,331.6L79.1,331.3L81.5,328.8L86.5,328.8L89.0,330.9L91.4,329.3L93.9,331.3L96.4,329.3L103.0,329.3L106.3,331.6L110.4,327.1L115.3,325.5L117.8,321.4L122.7,321.4L125.2,324.7L126.9,322.2L130.2,324.7L135.9,324.7L140.9,317.3L142.5,321.4L145.0,315.6L147.5,318.9L150.8,313.1L153.2,314.0L157.4,309.0L160.7,314.0L168.1,314.0L173.8,324.7L177.1,321.4L179.6,323.8L183.7,320.5L191.2,320.5L192.8,323.8L194.5,318.9L200.2,318.9L202.7,314.8L208.5,314.8L211.8,318.9L215.1,318.9L219.2,320.5L219.9,319.7L224.9,321.4L229.0,323.8L233.1,321.4L238.1,321.4L243.0,317.3L247.1,318.9L250.4,315.6L254.6,317.3L259.5,317.3L264.5,320.5L269.4,323.8L276.0,323.8L280.1,326.3L285.9,326.3L289.2,323.0L304.0,323.0L307.3,330.4L312.3,331.3L316.4,327.1L318.8,328.8L323.0,331.3L330.4,330.4L334.5,324.7L337.8,328.0L343.6,324.7L346.9,323.0L355.1,324.7L360.1,326.3L364.2,326.3L368.2,326.3L372.4,328.8L375.7,327.1L381.4,327.1L385.5,329.6L398.7,329.6L400.4,326.3L412.7,326.3L417.7,317.3L423.5,311.5L426.8,317.3L430.9,319.7L452.3,319.7L457.3,311.5L473.7,311.5L477.9,314.8L482.0,321.4L486.9,321.4L491.9,316.4L494.3,318.9L496.8,316.4L500.1,318.9L505.1,316.4L509.2,316.4L509.9,318.1L514.1,319.7L517.4,315.6L520.7,320.5L524.8,321.4L528.1,318.1L536.3,318.1L542.9,320.5L547.9,326.3L552.8,327.1L557.7,323.8L561.0,325.5L567.6,322.2L571.8,319.7L575.9,322.2L580.8,329.6L587.4,332.1L590.7,329.6L595.7,337.9L599.0,337.9L603.1,335.4L608.0,337.9L612.1,328.8L615.4,330.4L618.7,335.4L623.7,332.1L628.6,332.9L633.6,337.0L636.9,338.7L643.5,337.0L650.1,333.7L654.2,327.1L654.3,329.7L656.6,325.6L659.1,336.3L663.2,337.1L668.1,333.8L673.1,336.3L679.7,334.7L687.1,334.7L692.0,332.2L697.0,336.3L702.7,338.0L707.7,342.1L713.5,343.7L719.2,339.6L727.5,339.6L730.8,337.1L735.7,340.4L742.3,342.1L747.3,344.6L752.2,347.0L757.1,347.0L765.4,347.0L778.6,345.4L786.8,344.2" fill="none" stroke="#f7d358" stroke-opacity="0.55" stroke-width="1.5" stroke-linejoin="round"/>
<path d="M77.4,199.2L84.9,199.2L85.4,199.2L86.4,200.0L87.4,200.0L87.9,200.2L88.4,200.3L88.9,200.5L89.4,200.7L89.9,201.0L90.4,200.5L90.9,200.2L91.9,200.2L92.4,200.1L92.9,199.5L94.9,199.5L95.4,200.6L95.9,202.0L97.9,202.0L98.4,201.9L98.9,201.4L99.4,200.9L104.4,196.2L104.9,196.1L107.4,196.1L107.9,196.3L109.9,198.6L110.4,199.2L115.4,199.2L115.9,199.8L117.4,203.3L117.9,203.8L120.9,203.8L121.4,202.6L122.4,200.3L122.9,199.2L127.9,199.2L128.4,199.4L129.9,200.9L130.4,201.1L137.9,201.1L138.4,201.5L139.9,203.3L140.4,203.5L140.9,203.6L141.4,203.9L141.9,204.3L142.4,204.5L142.9,204.7L143.4,205.0L143.9,205.8L144.4,206.9L144.9,207.5L147.9,208.4L148.4,208.8L150.4,210.8L150.9,211.3L153.4,213.3L153.9,213.7L158.4,213.7L158.9,212.9L161.4,208.4L161.9,207.7L169.4,207.7L169.9,208.0L171.9,208.0L172.4,207.2L174.9,202.6L175.4,201.8L175.9,201.8L177.4,201.8L177.9,201.8L179.9,201.8L180.4,199.7L182.4,199.7L182.9,200.5L189.9,205.6L190.4,205.7L193.9,205.7L194.4,205.7L197.9,201.2L199.9,201.2L200.4,201.7L200.9,202.4L201.4,202.5L203.9,203.0L204.4,203.2L207.4,205.6L207.9,205.7L211.4,205.7L211.9,206.1L214.4,208.4L214.9,208.8L227.9,208.8L228.4,208.3L229.9,206.5L230.4,206.4L236.4,206.4L236.9,205.6L238.4,201.8L238.9,200.9L239.4,200.9L239.9,200.6L240.4,200.6L240.9,200.4L241.4,200.3L241.9,200.3L242.4,199.9L242.9,199.4L243.4,199.0L245.4,199.0L245.9,199.4L247.9,199.4L249.4,196.1L249.9,196.1L251.9,196.1L252.9,197.6L253.4,198.0L256.9,199.1L257.4,199.5L262.9,203.7L263.4,203.8L265.4,203.8L265.9,203.4L267.9,200.9L268.4,200.5L271.4,200.5L271.9,200.2L273.9,198.7L274.4,198.5L282.9,198.5L283.4,198.5L283.9,198.0L284.4,197.9L286.4,197.9L287.9,199.9L288.4,200.4L290.4,200.4L290.9,199.7L291.4,199.2L295.9,199.2L296.4,199.8L296.9,200.5L298.9,200.5L299.4,200.3L300.4,199.3L300.9,199.2L306.9,199.2L307.4,198.8L308.4,197.1L308.9,196.5L313.9,196.5L314.4,196.9L316.4,198.7L316.9,198.9L332.9,198.9L333.4,199.2L335.9,202.3L337.9,202.3L338.4,202.5L340.4,202.5L343.9,206.0L344.4,206.4L349.9,206.4L350.4,206.1L351.4,204.1L351.9,203.8L355.4,203.8L355.9,203.1L356.9,201.4L357.4,201.2L359.4,201.2L359.9,202.0L360.4,202.5L371.9,202.5L372.4,203.0L374.4,205.8L374.9,206.1L380.9,206.1L381.4,206.3L381.9,206.9L383.9,206.9L384.4,206.7L385.4,205.3L385.9,204.7L387.9,204.7L390.4,206.4L390.9,206.9L394.4,211.0L394.9,211.0L405.4,211.0L405.9,210.2L406.9,206.8L407.4,205.8L409.4,205.8L411.4,207.3L411.9,207.5L419.9,207.5L420.4,208.4L420.9,209.2L422.9,209.2L423.4,208.7L423.9,208.4L427.9,208.4L428.4,208.3L430.9,205.8L431.4,205.7L436.9,205.7L437.4,206.3L440.4,209.8L440.9,210.4L446.4,210.4L446.9,210.5L448.4,212.5L448.9,213.0L461.9,213.0L462.4,211.7L462.9,210.2L463.4,209.3L465.4,209.3L466.4,210.8L466.9,211.3L468.9,211.3L469.4,210.5L469.9,210.0L471.9,210.0L474.9,210.3L475.4,211.0L476.9,214.7L477.4,215.2L480.4,215.2L480.9,214.8L485.4,210.6L485.9,210.1L486.9,208.8L488.9,208.8L489.4,209.1L490.9,210.3L491.4,210.4L497.4,210.4L497.9,210.0L500.4,207.0L500.9,206.4L509.9,206.4L510.4,205.9L513.9,200.7L514.4,200.5L516.9,200.5L517.4,200.4L519.4,198.4L521.4,198.4L521.9,199.1L522.4,199.6L526.4,199.6L527.4,200.6L527.9,201.1L532.4,202.4L532.9,202.9L534.9,205.4L536.9,205.4L537.4,205.6L538.9,205.6L539.4,205.8L539.9,206.3L540.4,206.4L542.9,206.4L543.4,206.3L546.4,200.3L548.4,200.3L548.9,200.6L549.4,201.1L552.4,201.1L552.9,200.8L554.4,199.3L556.4,199.3L556.9,199.9L558.9,199.9L559.4,199.8L560.4,198.6L560.9,198.5L563.4,198.5L563.9,198.6L566.4,201.1L566.9,201.5L569.9,203.5L570.4,203.8L575.9,203.8L576.4,203.9L576.9,204.8L578.9,204.8L579.4,204.5L579.9,203.4L580.4,203.1L580.9,203.1L581.4,202.8L581.9,202.4L582.4,202.3L582.9,201.8L583.4,201.8L583.9,201.8L584.4,200.8L584.9,199.8L588.4,199.8L588.9,199.9L591.4,202.4L591.9,202.6L595.4,203.8L595.9,204.2L600.4,208.1L600.9,208.4L603.9,208.4L604.4,208.9L605.4,210.1L605.9,210.2L607.9,210.2L608.9,209.0L609.4,208.9L611.4,208.9L612.9,210.1L613.4,210.4L618.4,210.4L618.9,210.8L622.9,215.0L623.4,215.5L624.9,216.8L625.4,217.0L627.9,217.0L628.4,216.9L630.9,214.4L631.4,214.2L633.4,213.7L633.9,213.7L650.9,213.7L651.4,213.7L651.9,213.9L653.9,213.9L654.4,213.5L655.9,211.7L657.9,211.7L658.4,211.7L661.4,214.7L661.9,215.0L676.4,215.0L676.9,214.9L681.4,210.4L681.9,210.4L696.4,210.4L696.9,210.7L698.9,210.7L700.9,207.5L701.4,207.1L703.4,207.1L703.9,207.0L704.9,205.5L705.4,205.1L710.9,205.1L711.4,205.5L711.9,206.2L712.4,206.4L716.4,206.4L716.9,206.5L718.9,206.5L720.9,204.5L721.4,204.4L725.9,204.4L726.4,204.7L727.9,207.2L728.4,207.7L737.9,207.7L738.4,207.3L741.9,201.4L742.4,201.1L751.9,201.1L752.4,200.3L752.9,199.3L753.4,198.5L757.4,198.5L757.9,198.4L760.4,196.7L760.9,196.4L787.9,196.4" fill="none" stroke="#e61e2d" stroke-opacity="0.25" stroke-width="3.9" stroke-linejoin="round" clip-path="url(#cp)"/>
<path d="M76.6,204.0L84.5,204.0L87.1,205.9L88.5,204.0L90.4,207.3L91.8,204.6L93.7,203.0L95.7,208.6L98.4,205.9L103.6,200.9L106.9,200.9L109.6,204.0L114.8,204.0L116.8,208.6L120.1,208.6L122.1,204.0L127.4,204.0L129.3,205.9L137.3,205.9L140.5,209.9L141.9,207.9L143.8,212.3L147.1,213.2L149.8,215.8L153.1,218.5L157.7,218.5L161.0,212.5L168.9,212.5L170.2,214.5L174.2,207.3L175.5,205.3L178.8,207.9L180.1,202.0L182.1,205.3L189.3,210.5L190.3,210.5L193.6,210.5L198.2,204.6L200.2,207.3L203.5,207.9L206.8,210.5L210.7,210.5L214.0,213.6L227.2,213.6L229.2,211.2L235.8,211.2L238.4,204.6L240.4,205.9L243.7,202.6L246.3,205.9L249.6,198.7L252.3,202.6L256.2,204.0L262.1,208.6L264.8,208.6L267.4,205.3L270.7,205.3L273.4,203.3L282.6,203.3L284.6,201.3L288.5,206.6L290.5,204.0L295.1,204.0L297.1,206.6L299.7,204.0L304.3,204.0L304.4,204.0L305.3,205.9L307.9,201.3L313.2,201.3L315.8,203.7L332.3,203.7L336.3,208.6L338.2,205.9L343.5,211.2L349.5,211.2L350.8,208.6L354.7,208.6L357.4,204.0L359.3,207.3L371.2,207.3L373.8,210.9L380.4,210.9L382.4,213.2L385.7,208.6L389.7,211.2L393.6,215.8L404.8,215.8L406.8,209.2L410.8,212.3L419.3,212.3L420.3,215.8L422.9,213.2L427.5,213.2L430.2,210.5L436.1,210.5L440.1,215.2L446.0,215.2L448.0,217.8L461.2,217.8L463.1,211.9L467.1,217.8L469.1,214.5L474.3,215.2L476.3,220.0L479.6,220.0L484.9,215.2L486.9,212.5L490.2,215.2L496.8,215.2L500.1,211.2L509.3,211.2L513.2,205.3L516.5,205.3L519.8,202.0L522.5,205.9L524.5,203.3L527.1,205.9L531.7,207.3L534.3,210.5L535.3,211.2L537.3,209.2L539.2,211.2L542.5,211.2L546.5,203.3L548.5,205.9L551.8,205.9L555.1,202.6L557.0,206.6L559.7,203.3L563.0,203.3L565.6,205.9L569.6,208.6L575.5,208.6L577.5,211.9L580.1,205.9L582.1,208.6L584.1,204.6L588.0,204.6L590.7,207.3L594.6,208.6L599.9,213.2L603.2,213.2L605.8,216.5L609.1,212.5L612.4,215.2L617.7,215.2L622.3,220.0L624.3,221.8L627.6,221.8L630.2,219.1L632.9,218.5L649.3,218.5L650.3,218.5L652.9,219.1L656.2,215.2L660.8,219.8L676.0,219.8L680.6,215.2L695.8,215.2L697.1,217.1L700.4,211.9L703.0,211.9L704.3,209.9L710.3,209.9L712.3,212.5L714.9,209.9L716.9,212.5L720.2,209.2L725.4,209.2L727.4,212.5L737.3,212.5L741.3,205.9L751.2,205.9L752.5,203.3L757.0,203.3L760.0,201.2L787.5,201.2" fill="none" stroke="#e61e2d" stroke-opacity="0.55" stroke-width="1.5" stroke-linejoin="round"/>
<path d="M77.4,148.9L79.4,149.7L80.4,150.5L80.9,150.8L88.4,150.8L88.9,150.6L91.9,148.4L92.4,148.4L98.4,148.4L98.9,148.7L99.4,149.1L100.9,149.1L101.4,149.2L101.9,149.5L102.4,149.5L103.4,149.5L104.4,150.7L104.9,150.8L109.9,150.8L110.4,150.7L111.9,149.4L112.4,149.3L114.4,149.3L116.9,151.0L117.4,151.4L118.9,152.6L119.4,152.6L122.4,152.6L122.9,152.6L123.4,152.0L125.4,152.0L125.9,153.1L127.9,153.1L128.4,153.0L128.9,152.1L129.4,151.5L130.4,151.5L130.9,151.3L131.4,151.1L131.9,150.9L132.9,150.9L133.4,150.2L133.9,149.4L134.4,149.0L138.4,149.0L138.9,149.5L140.9,154.0L141.4,155.0L146.4,155.0L146.9,154.4L147.4,153.3L147.9,153.0L148.4,152.6L148.9,152.3L149.4,152.2L149.9,152.1L150.4,151.8L151.4,151.8L152.4,150.9L152.9,150.8L169.4,150.8L169.9,150.6L171.9,148.7L173.9,148.7L174.4,149.1L174.9,149.6L175.4,151.4L175.9,152.8L176.4,152.8L176.9,153.3L177.4,153.4L177.9,153.5L178.4,154.1L179.4,154.1L180.4,155.7L180.9,156.3L182.9,156.3L183.4,156.3L185.4,156.3L185.9,156.5L187.9,156.5L189.9,154.0L190.4,153.7L190.9,153.7L191.4,153.2L191.9,152.6L192.4,152.1L194.4,152.1L195.9,153.3L196.4,153.8L198.9,160.0L199.4,160.3L203.9,160.3L204.4,160.6L205.9,164.1L206.4,164.9L209.4,164.9L209.9,164.2L210.4,163.2L210.9,162.2L232.9,162.2L233.4,162.4L233.9,163.2L235.9,163.2L236.4,163.1L237.4,161.2L237.9,160.3L240.9,160.3L241.4,160.8L245.4,170.3L245.9,170.6L247.9,170.6L248.4,169.8L248.9,169.7L257.4,169.7L257.9,169.3L258.9,167.1L259.4,166.8L266.9,166.8L267.4,166.2L268.4,164.9L268.9,164.2L277.4,164.2L277.9,163.2L279.4,159.7L279.9,159.6L282.9,159.6L283.4,159.6L284.9,160.7L286.9,160.7L287.4,160.5L288.4,159.8L288.9,159.6L297.4,159.6L297.9,159.6L300.4,162.1L300.9,162.2L305.9,162.2L306.4,161.8L307.9,159.8L308.4,159.6L310.4,159.6L310.9,159.4L312.9,157.4L313.4,157.0L316.4,157.0L316.9,157.4L318.4,159.9L318.9,160.3L321.9,160.3L322.4,160.9L323.4,162.2L323.9,162.9L332.9,162.9L333.4,162.5L334.9,160.5L335.4,160.3L345.9,160.3L346.4,160.1L347.9,157.6L348.4,157.0L351.9,157.0L352.4,156.7L353.4,155.0L353.9,154.7L357.4,154.7L357.9,155.8L358.4,157.2L358.9,157.4L362.9,157.4L363.4,157.5L363.9,158.5L365.9,158.5L366.4,158.3L366.9,157.7L368.9,157.7L369.4,157.9L370.9,159.7L371.4,160.3L374.9,160.3L375.4,160.1L376.9,158.1L377.4,157.6L381.9,157.6L382.4,156.6L382.9,155.6L383.4,155.0L391.4,155.0L391.9,154.8L393.4,152.8L393.9,152.3L402.9,152.3L403.4,151.8L404.9,149.8L405.4,149.7L409.9,149.7L410.4,149.5L410.9,148.8L412.9,148.8L413.4,149.4L415.9,154.4L416.4,155.1L418.4,156.6L418.9,157.1L420.9,157.1L421.4,156.5L422.4,155.0L423.9,151.0L424.4,149.7L427.4,149.7L427.9,150.7L428.9,155.2L429.4,155.6L436.9,155.6L437.4,154.7L437.9,153.7L438.4,153.0L451.4,153.0L451.9,153.7L452.9,155.0L453.4,155.6L456.4,155.6L456.9,155.9L458.9,157.9L459.4,158.3L462.4,158.3L462.9,158.6L463.4,159.1L465.4,159.1L465.9,159.0L466.4,158.5L466.9,158.3L472.9,158.3L473.4,159.1L473.9,161.0L475.9,161.0L476.4,158.0L476.9,155.0L477.4,153.4L480.4,151.0L480.9,151.0L485.4,151.0L485.9,150.8L489.9,147.3L491.9,147.3L492.4,147.8L493.4,150.5L493.9,151.0L501.4,151.0L501.9,151.4L503.4,152.9L503.9,153.0L506.4,153.0L506.9,152.9L507.4,152.2L508.4,152.2L508.9,151.9L509.4,151.6L509.9,151.5L510.4,151.3L511.4,151.3L511.9,150.6L513.9,150.6L514.4,151.7L517.9,165.3L518.4,166.5L520.4,166.5L520.9,164.5L521.4,162.8L523.4,162.8L523.9,162.5L526.4,162.5L526.9,162.4L527.4,162.0L527.9,161.8L528.4,161.4L528.9,161.4L529.4,161.4L529.9,161.8L531.4,161.8L531.9,162.1L532.9,162.1L533.4,162.2L534.4,162.7L534.9,162.7L535.4,162.9L537.4,162.9L539.4,160.9L539.9,160.8L541.9,160.8L543.4,162.3L545.4,162.3L545.9,162.1L546.4,161.5L546.9,160.9L548.9,160.9L549.9,162.2L550.4,162.2L560.4,162.2L560.9,161.8L562.9,161.8L563.4,162.2L570.9,162.2L571.4,162.7L572.9,164.7L573.4,164.9L574.9,164.9L575.4,165.4L576.9,167.4L577.4,167.5L589.4,167.5L589.9,166.9L591.9,163.9L593.4,163.9L593.9,163.1L594.4,162.9L594.9,162.7L595.9,162.7L596.4,162.2L598.9,162.2L599.4,162.2L602.4,155.6L602.9,154.7L604.4,152.7L604.9,152.3L606.4,152.3L606.9,151.9L607.9,150.4L608.4,150.4L624.9,150.4L625.4,149.4L625.9,149.4L627.9,149.4L628.4,150.4L631.4,151.6L631.9,152.5L632.9,156.1L634.9,156.1L635.4,156.0L635.9,155.6L645.4,155.6L645.9,155.1L647.4,153.1L647.9,153.0L649.9,153.0L650.4,152.8L650.9,152.2L651.4,151.8L653.4,151.8L654.4,153.2L654.9,153.5L656.9,153.5L657.9,152.2L658.4,151.7L668.4,151.7L668.9,151.7L669.9,155.1L670.4,155.2L672.4,155.2L673.4,153.2L673.9,152.3L674.4,152.2L674.9,152.1L675.4,151.8L675.9,151.4L676.9,149.0L678.9,149.0L679.4,149.2L682.9,152.0L683.4,152.3L696.4,152.3L696.9,151.9L697.9,150.6L698.4,150.2L700.4,150.2L700.9,150.3L701.4,150.7L707.4,159.1L707.9,159.6L712.9,159.6L713.4,160.2L713.9,160.3L715.9,160.3L716.9,157.3L717.4,157.0L721.9,157.0L722.4,157.1L729.9,164.6L730.4,164.9L732.4,164.9L732.9,164.8L739.9,157.2L740.4,157.0L748.4,157.0L748.9,156.6L749.4,156.0L751.4,156.0L752.4,156.8L752.9,157.2L756.4,159.9L756.9,160.2L762.4,160.2L762.9,160.3L766.4,164.9L766.9,165.4L787.9,165.4" fill="none" stroke="#368cdf" stroke-opacity="0.25" stroke-width="3.9" stroke-linejoin="round" clip-path="url(#cp)"/>
<path d="M76.6,152.9L79.9,155.6L87.8,155.6L91.1,153.2L97.7,153.2L99.7,154.8L101.6,153.2L103.6,155.6L109.6,155.6L112.2,153.2L116.2,155.8L118.1,157.4L122.1,157.4L124.1,155.2L126.0,160.4L129.3,154.8L131.3,157.1L133.3,153.8L137.9,153.8L140.5,159.8L145.8,159.8L147.8,155.6L149.1,157.8L151.8,155.6L168.9,155.6L172.2,152.5L174.2,154.5L175.5,159.8L177.5,157.1L180.8,162.4L183.4,159.8L186.0,162.7L189.3,158.5L190.3,158.5L192.3,155.8L195.5,158.5L198.2,165.1L203.5,165.1L205.4,169.7L208.7,169.7L210.1,167.0L232.5,167.0L234.5,170.1L237.1,165.1L240.4,165.1L245.7,177.6L247.6,174.5L256.9,174.5L258.2,171.6L266.1,171.6L268.1,169.0L276.6,169.0L278.6,164.4L282.6,164.4L285.2,166.4L287.9,164.4L297.1,164.4L299.7,167.0L304.3,167.0L305.3,167.0L307.3,164.4L309.9,164.4L312.5,161.8L315.8,161.8L317.8,165.1L321.1,165.1L323.1,167.7L332.3,167.7L334.3,165.1L345.5,165.1L347.5,161.8L351.4,161.8L352.7,159.5L356.7,159.5L358.7,165.1L361.3,159.8L364.0,165.1L367.3,161.1L370.5,165.1L374.5,165.1L376.5,162.4L381.1,162.4L382.4,159.8L391.0,159.8L393.0,157.1L402.2,157.1L404.2,154.5L409.5,154.5L411.4,151.9L415.4,159.8L418.0,161.8L419.0,163.7L421.6,159.8L423.6,154.5L426.9,154.5L428.2,160.4L436.1,160.4L437.4,157.8L450.6,157.8L452.6,160.4L455.9,160.4L458.5,163.1L461.8,163.1L463.8,165.1L465.8,163.1L472.4,163.1L474.3,170.3L476.3,158.5L479.6,155.8L484.9,155.8L490.8,150.5L492.8,155.8L500.7,155.8L502.7,157.8L506.0,157.8L508.0,155.2L509.3,157.8L511.3,155.2L513.2,155.2L518.5,175.6L520.5,167.7L522.5,165.7L523.8,171.6L525.8,165.1L527.7,167.7L529.7,165.1L531.7,167.7L534.3,166.4L534.4,167.7L536.6,167.7L539.9,164.4L543.8,168.4L547.1,164.4L549.1,167.0L559.7,167.0L561.0,164.4L562.3,167.0L570.2,167.0L572.2,169.7L574.2,169.7L576.2,172.3L588.7,172.3L592.6,166.4L594.0,170.3L595.3,167.0L598.6,167.0L601.9,159.8L603.8,157.1L605.8,157.1L607.1,155.2L624.3,155.2L625.6,151.2L627.6,155.2L630.9,156.5L632.9,163.7L634.8,160.4L644.7,160.4L646.7,157.8L649.3,157.8L649.4,157.8L651.6,155.2L654.9,159.8L657.5,156.5L668.1,156.5L670.1,163.1L673.4,156.5L674.7,157.1L676.6,152.5L682.6,157.1L695.8,157.1L697.7,154.5L700.4,155.2L707.0,164.4L712.3,164.4L714.2,167.7L716.2,161.8L721.5,161.8L729.4,169.7L732.0,169.7L739.3,161.8L747.9,161.8L749.2,159.8L751.8,161.8L756.0,165.0L762.0,165.0L766.0,170.2L787.5,170.2" fill="none" stroke="#368cdf" stroke-opacity="0.55" stroke-width="1.5" stroke-linejoin="round"/>
<g stroke="#222" stroke-width="1.15" fill="none">
<path d="M110.5,131.5H116.5V551.5H110.5"/>
<path d="M116.5,557.5V551.5H789.5V557.5"/>
</g>
<g stroke="#222" stroke-width="1.1">
<line x1="110.5" x2="116.5" y1="551.5" y2="551.5"/>
<line x1="110.5" x2="116.5" y1="503.2" y2="503.2"/>
<line x1="110.5" x2="116.5" y1="455.0" y2="455.0"/>
<line x1="110.5" x2="116.5" y1="406.8" y2="406.8"/>
<line x1="110.5" x2="116.5" y1="358.5" y2="358.5"/>
<line x1="110.5" x2="116.5" y1="310.2" y2="310.2"/>
<line x1="110.5" x2="116.5" y1="262.0" y2="262.0"/>
<line x1="110.5" x2="116.5" y1="213.8" y2="213.8"/>
<line x1="110.5" x2="116.5" y1="165.5" y2="165.5"/>
<line x1="157.5" x2="157.5" y1="551.5" y2="557.5"/>
<line x1="213.0" x2="213.0" y1="551.5" y2="557.5"/>
<line x1="270.0" x2="270.0" y1="551.5" y2="557.5"/>
<line x1="325.5" x2="325.5" y1="551.5" y2="557.5"/>
<line x1="383.0" x2="383.0" y1="551.5" y2="557.5"/>
<line x1="439.5" x2="439.5" y1="551.5" y2="557.5"/>
<line x1="491.5" x2="491.5" y1="551.5" y2="557.5"/>
<line x1="548.5" x2="548.5" y1="551.5" y2="557.5"/>
<line x1="604.0" x2="604.0" y1="551.5" y2="557.5"/>
<line x1="661.0" x2="661.0" y1="551.5" y2="557.5"/>
<line x1="716.5" x2="716.5" y1="551.5" y2="557.5"/>
<line x1="773.5" x2="773.5" y1="551.5" y2="557.5"/>
</g>
<g font-family="Liberation Sans, Arial, sans-serif" font-size="10" fill="#444">
<text x="107.5" y="555.1" text-anchor="end">0</text>
<text x="107.5" y="506.9" text-anchor="end">20</text>
<text x="107.5" y="458.6" text-anchor="end">40</text>
<text x="107.5" y="410.4" text-anchor="end">60</text>
<text x="107.5" y="362.1" text-anchor="end">80</text>
<text x="107.5" y="313.9" text-anchor="end">100</text>
<text x="107.5" y="265.6" text-anchor="end">120</text>
<text x="107.5" y="217.3" text-anchor="end">140</text>
<text x="107.5" y="169.1" text-anchor="end">160</text>
<text transform="translate(169.1,562.4) rotate(-45)" text-anchor="end">Sep</text>
<text transform="translate(224.6,562.4) rotate(-45)" text-anchor="end">Oct</text>
<text transform="translate(281.6,562.4) rotate(-45)" text-anchor="end">Nov</text>
<text transform="translate(337.1,562.4) rotate(-45)" text-anchor="end">Dec</text>
<text transform="translate(394.6,562.4) rotate(-45)" text-anchor="end">2023</text>
<text transform="translate(451.1,562.4) rotate(-45)" text-anchor="end">Feb</text>
<text transform="translate(503.1,562.4) rotate(-45)" text-anchor="end">Mar</text>
<text transform="translate(560.1,562.4) rotate(-45)" text-anchor="end">Apr</text>
<text transform="translate(615.6,562.4) rotate(-45)" text-anchor="end">May</text>
<text transform="translate(672.6,562.4) rotate(-45)" text-anchor="end">Jun</text>
<text transform="translate(728.1,562.4) rotate(-45)" text-anchor="end">Jul</text>
<text transform="translate(785.1,562.4) rotate(-45)" text-anchor="end">Aug</text>
</g>
<g stroke="#444" stroke-width="1"><line x1="787.6" x2="787.6" y1="116" y2="551.5"/><line x1="773" x2="802.5" y1="116" y2="116"/></g>
<text x="788" y="110.6" text-anchor="middle" font-family="Liberation Sans, Arial, sans-serif" font-size="12" fill="#333">Aug 09, 2023</text>
<g font-family="Liberation Sans, Arial, sans-serif" font-size="16">
<text x="784" y="169.6" text-anchor="end" fill="#368cdf">EPP</text>
<text x="792.5" y="169.6" fill="#368cdf">158</text>
<text x="784" y="201.6" text-anchor="end" fill="#dc143c">S&amp;D</text>
<text x="792.5" y="201.6" fill="#dc143c">145</text>
<text x="784" y="340.5" text-anchor="end" fill="#f7d358">RE</text>
<text x="792.5" y="340.5" fill="#f7d358">86</text>
<text x="784" y="358.5" text-anchor="end" fill="#2b3bd0">ECR</text>
<text x="792.5" y="358.5" fill="#2b3bd0">81</text>
<text x="784" y="379.3" text-anchor="end" fill="#3c4150">ID</text>
<text x="792.5" y="379.3" fill="#3c4150">71</text>
<text x="784" y="425.4" text-anchor="end" fill="#2e9a3e">Greens/EFA</text>
<text x="792.5" y="425.4" fill="#2e9a3e">44</text>
<text x="784" y="443.2" text-anchor="end" fill="#939595">NI</text>
<text x="792.5" y="443.2" fill="#939595">43</text>
<text x="784" y="461.0" text-anchor="end" fill="#9b1c2e">Left – GUE/NGL</text>
<text x="792.5" y="461.0" fill="#9b1c2e">43</text>
<text x="784" y="478.8" text-anchor="end" fill="#d4aed0">New unaffiliated</text>
<text x="792.5" y="478.8" fill="#d4aed0">34</text>
</g>
<text x="76" y="41" font-family="Liberation Serif, Times New Roman, serif" font-size="21.5" fill="#969696" textLength="540" lengthAdjust="spacingAndGlyphs">EUROPEAN PARLIAMENT ELECTION POLL OF POLLS</text>
<rect x="76" y="65" width="188" height="26" rx="4" fill="#ea2e2c"/>
<rect x="183" y="65" width="33" height="26" fill="#bf2724"/>
<rect x="749" y="65" width="79.5" height="26" rx="4" fill="#ea2e2c"/>
<path d="M753,65H787.7V91H753a4,4 0 0 1 -4,-4V69a4,4 0 0 1 4,-4z" fill="#bf2724"/>
<g font-family="Liberation Sans, Arial, sans-serif" font-weight="bold" font-size="11.2" stroke-width="0.45" stroke-linejoin="round">
<text x="80.7" y="81" textLength="11.6" lengthAdjust="spacingAndGlyphs" fill="#f9a8a2" stroke="#f9a8a2">ALL</text>
<text x="105.0" y="81" textLength="29.0" lengthAdjust="spacingAndGlyphs" fill="#f9a8a2" stroke="#f9a8a2">3 YEARS</text>
<text x="146.0" y="81" textLength="29.5" lengthAdjust="spacingAndGlyphs" fill="#f9a8a2" stroke="#f9a8a2">2 YEARS</text>
<text x="187.0" y="81" textLength="24.0" lengthAdjust="spacingAndGlyphs" fill="#fff" stroke="#fff">1 YEAR</text>
<text x="223.0" y="81" textLength="36.0" lengthAdjust="spacingAndGlyphs" fill="#f9a8a2" stroke="#f9a8a2">6 MONTHS</text>
<text x="754.2" y="81" textLength="28.4" lengthAdjust="spacingAndGlyphs" fill="#fff" stroke="#fff">SMOOTH</text>
<text x="795.0" y="81" textLength="29.0" lengthAdjust="spacingAndGlyphs" fill="#f9a8a2" stroke="#f9a8a2">KALMAN</text>
</g>
</svg></body></html>
